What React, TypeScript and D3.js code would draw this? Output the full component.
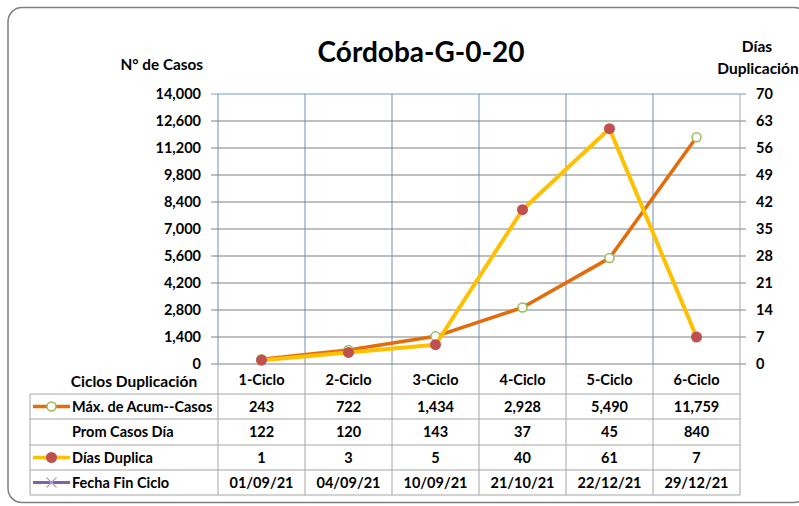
import React from "react";
import * as d3 from "d3";

// Córdoba-G-0-20: casos acumulados vs días de duplicación, con tabla de datos

const categories = ["1-Ciclo", "2-Ciclo", "3-Ciclo", "4-Ciclo", "5-Ciclo", "6-Ciclo"];
const maxCasos = [243, 722, 1434, 2928, 5490, 11759];
const promCasosDia = [122, 120, 143, 37, 45, 840];
const diasDuplica = [1, 3, 5, 40, 61, 7];
const fechaFin = ["01/09/21", "04/09/21", "10/09/21", "21/10/21", "22/12/21", "29/12/21"];
const leftTicks = [0, 1400, 2800, 4200, 5600, 7000, 8400, 9800, 11200, 12600, 14000];
const rightTicks = [0, 7, 14, 21, 28, 35, 42, 49, 56, 63, 70];

const FONT = "Lato, 'Open Sans', sans-serif";
const ORANGE = "#E46C0A";
const YELLOW = "#FFC000";
const RED = "#C0504D";
const GREEN = "#9BBB59";
const PURPLE = "#8064A2";

export default function App() {
    const W = 799;
    const H = 506;
    const plot = { left: 218, right: 740, top: 94, bottom: 364 };
    const rowLines = [394, 419, 445, 470, 495];
    const tableLeft = 30;

    const x = d3.scaleBand<string>().domain(categories).range([plot.left, plot.right]);
    const yL = d3.scaleLinear().domain([0, 14000]).range([plot.bottom, plot.top]);
    const yR = d3.scaleLinear().domain([0, 70]).range([plot.bottom, plot.top]);
    const cx = (c: string) => (x(c) ?? 0) + x.bandwidth() / 2;
    const fmt = d3.format(",");

    const lineMax = d3
        .line<number>()
        .x((d, i) => cx(categories[i]))
        .y((d) => yL(d));
    const lineDias = d3
        .line<number>()
        .x((d, i) => cx(categories[i]))
        .y((d) => yR(d));

    const bounds = [...categories.map((c) => x(c) ?? 0), plot.right];
    const rowMid = (i: number) => (rowLines[i] + rowLines[i + 1]) / 2;

    const rows = [
        { label: "Máx. de Acum--Casos", values: maxCasos.map(fmt), key: "max" },
        { label: "Prom Casos Día", values: promCasosDia.map(fmt), key: "none" },
        { label: "Días Duplica", values: diasDuplica.map(String), key: "dias" },
        { label: "Fecha Fin Ciclo", values: fechaFin, key: "fecha" },
    ];

    const legendKey = (key: string, y: number) => {
        const x0 = 33, x1 = 70, m = (x0 + x1) / 2;
        if (key === "max")
            return (
                <g>
                    <line x1={x0} x2={x1} y1={y} y2={y} stroke={ORANGE} strokeWidth={3.5} />
                    <circle cx={m} cy={y} r={4.5} fill="#fff" stroke={GREEN} strokeWidth={1.5} />
                </g>
            );
        if (key === "dias")
            return (
                <g>
                    <line x1={x0} x2={x1} y1={y} y2={y} stroke={YELLOW} strokeWidth={3.5} />
                    <circle cx={m} cy={y} r={5.5} fill={RED} />
                </g>
            );
        if (key === "fecha")
            return (
                <g>
                    <line x1={x0} x2={x1} y1={y} y2={y} stroke={PURPLE} strokeWidth={3} />
                    <path d={`M${m - 5},${y - 5}L${m + 5},${y + 5}M${m - 5},${y + 5}L${m + 5},${y - 5}`} stroke="#B3A2C7" strokeWidth={1.2} />
                </g>
            );
        return null;
    };

    return (
        <div style={{ position: "absolute", left: 0, top: 0 }}>
            <svg width={W} height={H} style={{ display: "block", fontFamily: FONT }}>
                <rect width={W} height={H} fill="#fff" />
                <rect x={8} y={7.5} width={800} height={495} rx={14} fill="#fff" stroke="#7F7F7F" strokeWidth={1.5} />

                {/* horizontal gridlines + ticks */}
                {leftTicks.map((t) => (
                    <line key={"g" + t} x1={211} x2={746} y1={yL(t)} y2={yL(t)}
                        stroke={t === 14000 ? "#B9CDE5" : "#BFBFBF"} strokeWidth={1.8} />
                ))}
                {/* vertical category lines */}
                {bounds.map((b, i) => (
                    <line key={"v" + i} x1={b} x2={b} y1={plot.top} y2={plot.bottom}
                        stroke={i === bounds.length - 1 ? "#A6A6A6" : "#6F8DBB"} strokeWidth={1} />
                ))}

                {/* series */}
                <path d={lineMax(maxCasos) ?? ""} fill="none" stroke={ORANGE} strokeWidth={3.5} strokeLinejoin="round" />
                {maxCasos.map((v, i) => (
                    <circle key={"m" + i} cx={cx(categories[i])} cy={yL(v)} r={4.5} fill="#fff" stroke={GREEN} strokeWidth={1.5} />
                ))}
                <path d={lineDias(diasDuplica) ?? ""} fill="none" stroke={YELLOW} strokeWidth={4} strokeLinejoin="round" />
                {diasDuplica.map((v, i) => (
                    <circle key={"d" + i} cx={cx(categories[i])} cy={yR(v)} r={5.5} fill={RED} />
                ))}

                {/* axes labels */}
                {leftTicks.map((t) => (
                    <text key={"l" + t} x={201} y={yL(t)} dy="0.35em" textAnchor="end" fontSize={14.5} fontWeight="bold">
                        {fmt(t)}
                    </text>
                ))}
                {rightTicks.map((t) => (
                    <text key={"r" + t} x={756} y={yR(t)} dy="0.35em" fontSize={14.5} fontWeight="bold">
                        {t}
                    </text>
                ))}
                <text x={203} y={65} dy="0.35em" textAnchor="end" fontSize={15.3} fontWeight="bold">N° de Casos</text>
                <text x={757} y={47} dy="0.35em" textAnchor="middle" fontSize={15.5} fontWeight="bold">Días</text>
                <text x={758} y={69} dy="0.35em" textAnchor="middle" fontSize={15.5} fontWeight="bold">Duplicación</text>
                <text x={421} y={52} dy="0.35em" textAnchor="middle" fontSize={28} fontWeight="bold">Córdoba-G-0-20</text>

                {/* data table */}
                {bounds.map((b, i) => (
                    <line key={"tv" + i} x1={b} x2={b} y1={plot.bottom} y2={rowLines[rowLines.length - 1]} stroke="#A6A6A6" strokeWidth={1} />
                ))}
                <line x1={tableLeft} x2={tableLeft} y1={rowLines[0]} y2={rowLines[rowLines.length - 1]} stroke="#A6A6A6" strokeWidth={1} />
                {rowLines.map((r) => (
                    <line key={"th" + r} x1={tableLeft} x2={plot.right} y1={r} y2={r} stroke="#A6A6A6" strokeWidth={1} />
                ))}
                <text x={134} y={382} dy="0.35em" textAnchor="middle" fontSize={15.5} fontWeight="bold">Ciclos Duplicación</text>
                {categories.map((c) => (
                    <text key={"c" + c} x={cx(c)} y={380} dy="0.35em" textAnchor="middle" fontSize={14.5} fontWeight="bold">{c}</text>
                ))}
                {rows.map((row, ri) => (
                    <g key={row.label}>
                        {legendKey(row.key, rowMid(ri))}
                        <text x={72} y={rowMid(ri)} dy="0.35em" fontSize={14.5} fontWeight="bold">{row.label}</text>
                        {row.values.map((v, i) => (
                            <text key={i} x={cx(categories[i])} y={rowMid(ri)} dy="0.35em" textAnchor="middle" fontSize={14.5} fontWeight="bold">{v}</text>
                        ))}
                    </g>
                ))}
            </svg>
        </div>
    );
}
